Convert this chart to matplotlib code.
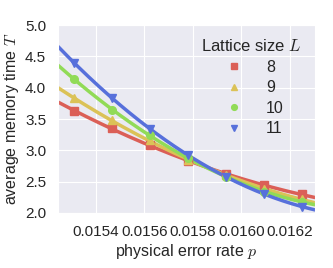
import numpy as np
import matplotlib
matplotlib.use("Agg")
import matplotlib.pyplot as plt
import seaborn as sns

sns.set_style("darkgrid")
plt.rcParams['font.family'] = ['Liberation Sans', 'DejaVu Sans']
plt.rcParams['mathtext.fontset'] = 'cm'

p = [0.01531, 0.015467, 0.015623, 0.01578, 0.015936, 0.016092, 0.01625]
sizes = ["8", "9", "10", "11"]
T = {
    "8":  [3.63, 3.35, 3.09, 2.83, 2.62, 2.44, 2.30],
    "9":  [3.83, 3.48, 3.16, 2.85, 2.60, 2.39, 2.22],
    "10": [4.14, 3.65, 3.24, 2.88, 2.58, 2.34, 2.18],
    "11": [4.40, 3.84, 3.34, 2.93, 2.57, 2.31, 2.10],
}
colors = ["#db5f57", "#dbc257", "#91db57", "#5770db"]
markers = ["s", "^", "o", "v"]

fig = plt.figure(figsize=(3.33, 2.68), dpi=100)
ax = fig.add_axes([58/333, 1 - 213/268, (315-58)/333, (213-25)/268])

xlim = (0.015245, 0.016303)
xx = np.linspace(xlim[0], xlim[1], 200)
for L, c, m in zip(sizes, colors, markers):
    x = np.array(p)
    y = np.array(T[L])
    coef = np.polyfit(x - 0.0158, y, 2)
    ax.plot(xx, np.polyval(coef, xx - 0.0158), color=c, lw=2.5, zorder=2)
    ax.plot(x, y, ls='none', marker=m, color=c, ms=5.5, zorder=3, label=L)

ax.set_xlim(*xlim)
ax.set_ylim(2.0, 5.0)
ax.set_xticks([0.0154, 0.0156, 0.0158, 0.0160, 0.0162])
ax.set_xticklabels(["0.0154", "0.0156", "0.0158", "0.0160", "0.0162"])
ax.set_yticks([2.0, 2.5, 3.0, 3.5, 4.0, 4.5, 5.0])
ax.tick_params(labelsize=11, colors='#262626', pad=5)
ax.set_xlabel("physical error rate $p$", fontsize=11.5, color='#262626', labelpad=2)
ax.set_ylabel("average memory time $T$", fontsize=11.5, color='#262626', labelpad=3)
leg = ax.legend(title="Lattice size $L$", loc='upper right', frameon=False,
                fontsize=11.5, title_fontsize=12, markerscale=0.75,
                handletextpad=1.0, labelspacing=0.35, borderaxespad=0.3,
                bbox_to_anchor=(0.99, 0.99))
for t in leg.get_texts():
    t.set_color('#262626')
leg.get_title().set_color('#262626')

fig.savefig("out.png", dpi=100)
